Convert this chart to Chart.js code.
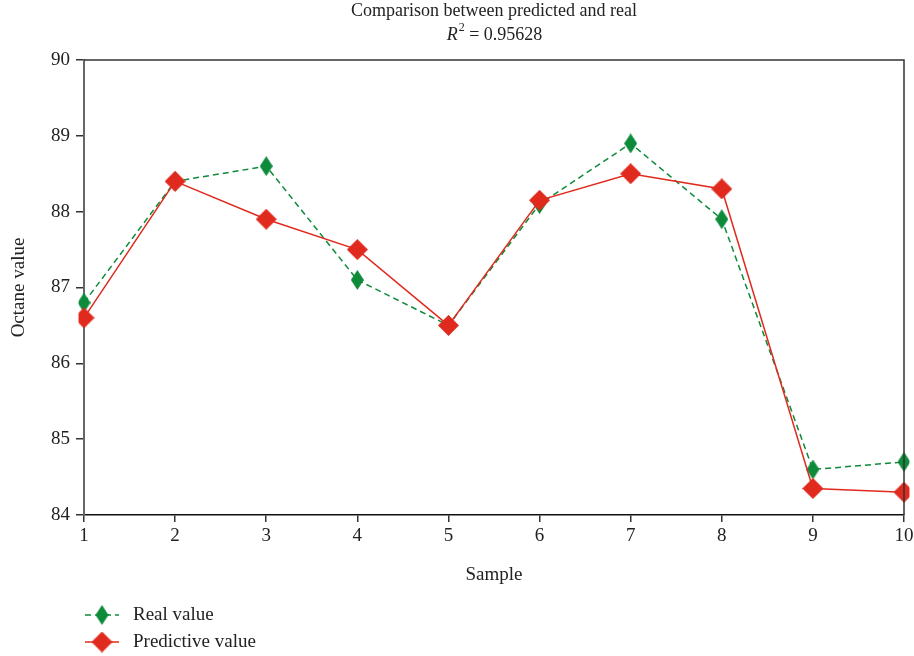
<!DOCTYPE html>
<html lang="en">
<head>
    <meta charset="UTF-8">
    <title>Comparison between predicted and real</title>
    <script src="https://cdn.jsdelivr.net/npm/chart.js"></script>
    <style>
        html, body { margin: 0; padding: 0; background: #ffffff; }
        #wrap { width: 914px; height: 656px; }
    </style>
</head>
<body>
    <div id="wrap"><canvas id="octaneChart" width="914" height="656"></canvas></div>

    <script>
        // Dados
        const samples = ['1', '2', '3', '4', '5', '6', '7', '8', '9', '10'];
        const realValues = [86.8, 88.4, 88.6, 87.1, 86.5, 88.1, 88.9, 87.9, 84.6, 84.7];
        const predictedValues = [86.6, 88.4, 87.9, 87.5, 86.5, 88.15, 88.5, 88.3, 84.35, 84.3];
        const yTicks = [84, 85, 86, 87, 88, 89, 90];

        const FONT = "'Liberation Serif', 'DejaVu Serif', serif";
        const GREEN = '#0d8a3a';
        const RED = '#e02a1e';

        // Losango estreito para a série real
        function makeDiamond(w, h, color) {
            const c = document.createElement('canvas');
            c.width = w; c.height = h;
            const g = c.getContext('2d');
            g.fillStyle = color;
            g.beginPath();
            g.moveTo(w / 2, 0);
            g.lineTo(w, h / 2);
            g.lineTo(w / 2, h);
            g.lineTo(0, h / 2);
            g.closePath();
            g.fill();
            return c;
        }
        const greenDiamond = makeDiamond(13, 20, GREEN);
        const redDiamond = makeDiamond(21, 21, RED);

        // Título com R em itálico e expoente
        const titlePlugin = {
            id: 'titleR2',
            afterDraw(chart) {
                const ctx = chart.ctx;
                const cx = (chart.chartArea.left + chart.chartArea.right) / 2;
                ctx.save();
                ctx.fillStyle = '#222';
                ctx.textBaseline = 'middle';
                ctx.textAlign = 'center';
                ctx.font = `18px ${FONT}`;
                ctx.fillText('Comparison between predicted and real', cx, 11);

                const partR = 'R', partExp = '2', partRest = ' = 0.95628';
                ctx.font = `italic 18px ${FONT}`;
                const wR = ctx.measureText(partR).width;
                ctx.font = `12px ${FONT}`;
                const wE = ctx.measureText(partExp).width;
                ctx.font = `18px ${FONT}`;
                const wRest = ctx.measureText(partRest).width;
                let x = cx - (wR + wE + wRest) / 2;
                ctx.textAlign = 'left';
                ctx.font = `italic 18px ${FONT}`;
                ctx.fillText(partR, x, 35);
                x += wR + 1;
                ctx.font = `12px ${FONT}`;
                ctx.fillText(partExp, x, 28);
                x += wE;
                ctx.font = `18px ${FONT}`;
                ctx.fillText(partRest, x, 35);
                ctx.restore();
            }
        };

        // Moldura superior e direita
        const framePlugin = {
            id: 'frame',
            afterDatasetsDraw(chart) {
                const { ctx, chartArea: a } = chart;
                ctx.save();
                ctx.strokeStyle = '#333';
                ctx.lineWidth = 1.5;
                ctx.beginPath();
                ctx.moveTo(a.left, a.top);
                ctx.lineTo(a.right, a.top);
                ctx.lineTo(a.right, a.bottom);
                ctx.stroke();
                ctx.restore();
            }
        };

        // Legenda vertical no canto inferior esquerdo
        const legendPlugin = {
            id: 'vLegend',
            afterDraw(chart) {
                const ctx = chart.ctx;
                const items = [
                    { ds: chart.data.datasets[0], y: 615 },
                    { ds: chart.data.datasets[1], y: 642 }
                ];
                ctx.save();
                items.forEach(it => {
                    ctx.strokeStyle = it.ds.borderColor;
                    ctx.lineWidth = it.ds.borderWidth;
                    ctx.setLineDash(it.ds.borderDash || []);
                    ctx.beginPath();
                    ctx.moveTo(85, it.y);
                    ctx.lineTo(119, it.y);
                    ctx.stroke();
                    ctx.setLineDash([]);
                    const img = it.ds.pointStyle;
                    ctx.drawImage(img, 102 - img.width / 2, it.y - img.height / 2);
                    ctx.fillStyle = '#222';
                    ctx.font = `19px ${FONT}`;
                    ctx.textBaseline = 'middle';
                    ctx.textAlign = 'left';
                    ctx.fillText(it.ds.label, 133, it.y);
                });
                ctx.restore();
            }
        };

        new Chart(document.getElementById('octaneChart'), {
            type: 'line',
            data: {
                labels: samples,
                datasets: [
                    {
                        label: 'Real value',
                        data: realValues,
                        borderColor: GREEN,
                        backgroundColor: GREEN,
                        borderWidth: 1.5,
                        borderDash: [6, 4],
                        pointStyle: greenDiamond,
                        tension: 0,
                        order: 1
                    },
                    {
                        label: 'Predictive value',
                        data: predictedValues,
                        borderColor: RED,
                        backgroundColor: RED,
                        borderWidth: 1.5,
                        pointStyle: redDiamond,
                        tension: 0,
                        order: 0
                    }
                ]
            },
            options: {
                responsive: false,
                animation: false,
                layout: { padding: { left: 0, top: 60, right: 10, bottom: 66 } },
                plugins: {
                    legend: { display: false },
                    title: { display: false },
                    tooltip: { enabled: false }
                },
                scales: {
                    x: {
                        type: 'category',
                        offset: false,
                        grid: { display: true, drawOnChartArea: false, drawTicks: true, tickLength: 7, color: '#333', lineWidth: 1.5 },
                        border: { display: true, color: '#111', width: 1.5 },
                        ticks: { color: '#222', font: { family: FONT, size: 19 }, padding: 3, maxRotation: 0 },
                        title: { display: true, text: 'Sample', color: '#222', font: { family: FONT, size: 19 } },
                        afterFit(s) { s.height = 75; s.paddingLeft = 0; s.paddingRight = 0; }
                    },
                    y: {
                        min: 84,
                        max: 90,
                        afterBuildTicks(s) { s.ticks = yTicks.map(v => ({ value: v })); },
                        grid: { display: true, drawOnChartArea: false, drawTicks: true, tickLength: 8, color: '#333', lineWidth: 1.5 },
                        border: { display: true, color: '#666', width: 2 },
                        ticks: { color: '#222', font: { family: FONT, size: 19 }, padding: 6 },
                        title: { display: true, text: 'Octane value', color: '#222', font: { family: FONT, size: 19 }, padding: { top: 8 } },
                        afterFit(s) { s.width = 84; }
                    }
                }
            },
            plugins: [titlePlugin, framePlugin, legendPlugin]
        });
    </script>
</body>
</html>
